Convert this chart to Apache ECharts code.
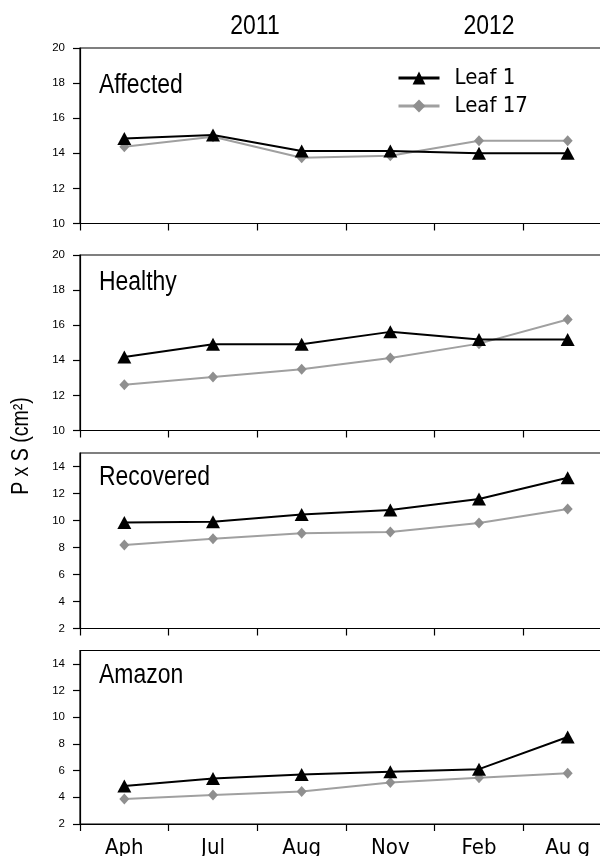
<!DOCTYPE html>
<html>
<head>
<meta charset="utf-8">
<script src="https://cdn.jsdelivr.net/npm/echarts@6/dist/echarts.min.js"></script>
<style>html,body{margin:0;padding:0;background:#fff}#c{width:600px;height:856px}</style>
</head>
<body>
<div id="c"></div>
<script>
const months = ['Aph', 'Jul', 'Aug', 'Nov', 'Feb', 'Au g'];
const years = ['2011', '2012'];
const panelNames = ['Affected', 'Healthy', 'Recovered', 'Amazon'];
const seriesNames = ['Leaf 1', 'Leaf 17'];
const affectedLeaf1 = [14.85, 15.04, 14.13, 14.13, 14.0, 14.0];
const affectedLeaf17 = [14.37, 14.94, 13.75, 13.86, 14.72, 14.72];
const healthyLeaf1 = [14.19, 14.91, 14.91, 15.62, 15.18, 15.18];
const healthyLeaf17 = [12.61, 13.05, 13.49, 14.13, 14.95, 16.32];
const recoveredLeaf1 = [9.86, 9.91, 10.45, 10.77, 11.59, 13.16];
const recoveredLeaf17 = [8.19, 8.64, 9.06, 9.14, 9.81, 10.85];
const amazonLeaf1 = [4.84, 5.41, 5.71, 5.91, 6.11, 8.52];
const amazonLeaf17 = [3.87, 4.17, 4.44, 5.11, 5.46, 5.81];
const yTicksUpper = [10, 12, 14, 16, 18, 20];
const yTicksLower = [2, 4, 6, 8, 10, 12, 14];
const yAxisTitle = 'P x S (cm²)';

const NARROW = "'DejaVu Sans Condensed', 'DejaVu Sans', sans-serif";
const REG = "'Liberation Sans', Arial, sans-serif";

const leaf1Data = [affectedLeaf1, healthyLeaf1, recoveredLeaf1, amazonLeaf1];
const leaf17Data = [affectedLeaf17, healthyLeaf17, recoveredLeaf17, amazonLeaf17];
const panelTop = [48, 255, 453, 650.5];
const panelHeight = [175.5, 175.5, 175.5, 173.5];
const panelMin = [10, 10, 2, 2];
const panelMax = [20, 20, 15, 15];
const panelTicks = [yTicksUpper, yTicksUpper, yTicksLower, yTicksLower];
const labelOffset = [38, 28, 25, 25];

const grids = [], xAxes = [], yAxes = [], series = [], graphics = [];
for (let i = 0; i < 4; i++) {
  grids.push({left: 80, right: -12, top: panelTop[i], height: panelHeight[i],
    outerBoundsMode: 'none', containLabel: false,
    show: true, borderColor: '#000', borderWidth: 1.2, backgroundColor: 'transparent'});
  xAxes.push({type: 'category', gridIndex: i, data: months, boundaryGap: true,
    axisLine: {show: true, onZero: false, lineStyle: {color: '#000', width: 1.2}},
    axisTick: {show: true, length: 7, inside: false, lineStyle: {color: '#000', width: 1.2}},
    axisLabel: {show: i === 3, margin: 13, color: '#000', fontFamily: NARROW, fontSize: 22},
    splitLine: {show: false}});
  yAxes.push({type: 'value', gridIndex: i, min: panelMin[i], max: panelMax[i], interval: 2,
    axisLine: {show: true, lineStyle: {color: '#000', width: 1.2}},
    axisTick: {show: true, length: 7, customValues: panelTicks[i], lineStyle: {color: '#000', width: 1.2}},
    axisLabel: {show: true, margin: 15, customValues: panelTicks[i], color: '#000', fontFamily: REG, fontSize: 11.5},
    splitLine: {show: false}});
  series.push({name: seriesNames[1], type: 'line', xAxisIndex: i, yAxisIndex: i, data: leaf17Data[i],
    symbol: 'diamond', symbolSize: [10, 11], color: '#999999',
    lineStyle: {color: '#a0a0a0', width: 2}, itemStyle: {color: '#8f8f8f'}, z: 2, animation: false});
  series.push({name: seriesNames[0], type: 'line', xAxisIndex: i, yAxisIndex: i, data: leaf1Data[i],
    symbol: 'triangle', symbolSize: [14, 13], color: '#000',
    lineStyle: {color: '#000', width: 2}, itemStyle: {color: '#000'}, z: 3, animation: false});
  graphics.push({type: 'text', x: 99, y: panelTop[i] + labelOffset[i], scaleX: 0.85,
    style: {text: panelNames[i], font: '27px ' + REG, fill: '#000', verticalAlign: 'middle', align: 'left'}});
}
graphics.push({type: 'text', x: 255, y: 27, scaleX: 0.85, style: {text: years[0], font: '27px ' + REG, fill: '#000', align: 'center', verticalAlign: 'middle'}});
graphics.push({type: 'text', x: 489, y: 27, scaleX: 0.85, style: {text: years[1], font: '27px ' + REG, fill: '#000', align: 'center', verticalAlign: 'middle'}});
graphics.push({type: 'text', x: 22, y: 446, rotation: Math.PI / 2, scaleX: 0.85,
  style: {text: yAxisTitle, font: '23px ' + REG, fill: '#000', align: 'center', verticalAlign: 'middle'}});

const chart = echarts.init(document.getElementById('c'), null, {renderer: 'canvas'});
chart.setOption({
  animation: false,
  backgroundColor: '#fff',
  grid: grids, xAxis: xAxes, yAxis: yAxes, series: series,
  legend: {data: seriesNames, orient: 'vertical', left: 392, top: 59, padding: 5, itemWidth: 41, itemHeight: 16, itemGap: 0,
    lineStyle: {width: 3},
    textStyle: {fontFamily: NARROW, fontSize: 22, color: '#000', lineHeight: 28, padding: [0, 0, 0, 10]}},
  graphic: graphics
});
</script>
</body>
</html>
